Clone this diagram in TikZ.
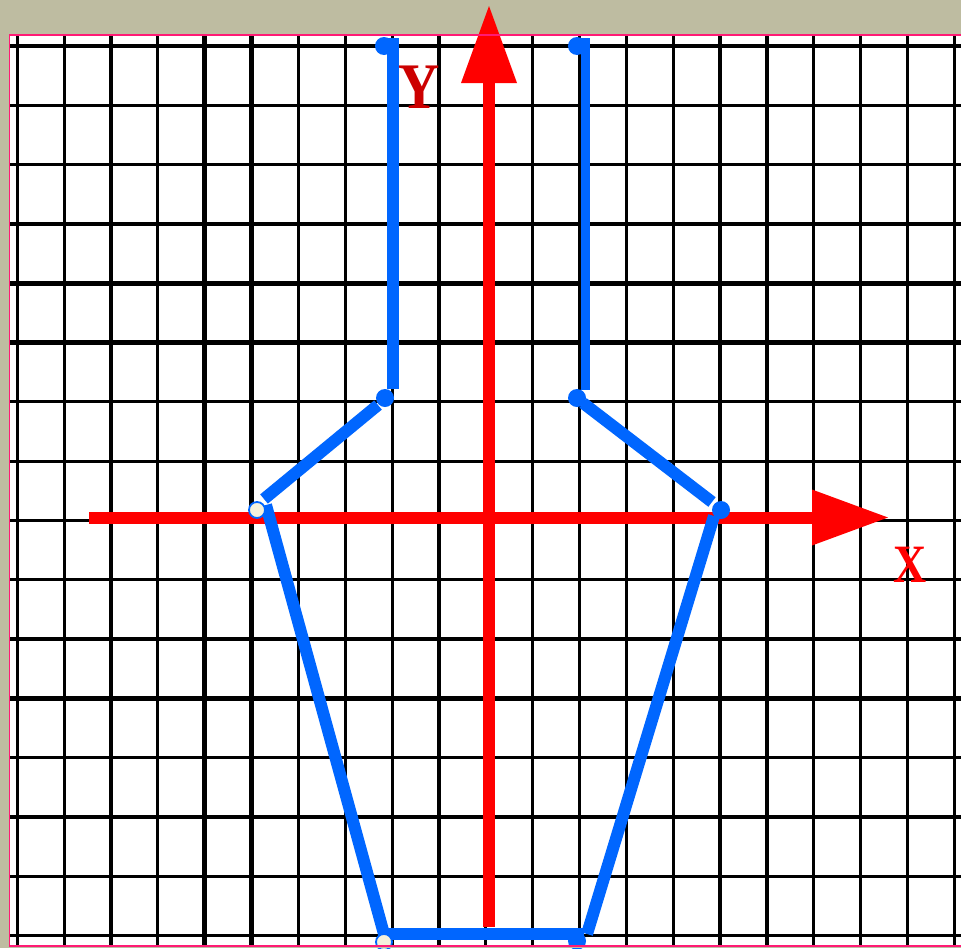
\documentclass[tikz,border=0pt]{standalone}
\usepackage{fontspec}
\setmainfont{Liberation Serif}
\begin{document}
\begin{tikzpicture}[x=1pt,y=-1pt]
\definecolor{khaki}{HTML}{BEBCA1}
\definecolor{framepink}{HTML}{FF1A75}
\definecolor{shapeblue}{HTML}{0066FF}
\definecolor{cream}{HTML}{F4F1DC}
\definecolor{ylabred}{HTML}{CC0000}
\definecolor{axisred}{HTML}{FF0000}
\tikzset{
  gridline/.style={black,line width=3.2pt},
  gridthick/.style={black,line width=4.8pt},
  axisline/.style={axisred,line width=12pt},
  axishead/.style={fill=axisred,draw=none},
  seg/.style={shapeblue,line width=12pt},
  segthin/.style={shapeblue,line width=9pt},
  bluedot/.style={circle,fill=shapeblue,draw=none,minimum size=18pt,inner sep=0pt},
  creamdot/.style={circle,fill=cream,draw=shapeblue,line width=1.8pt,minimum size=16pt,inner sep=0pt},
  axislabel/.style={inner sep=0pt,font=\bfseries}
}
\useasboundingbox (0,0) rectangle (961,948);
% background
\fill[khaki] (0,0) rectangle (961,948);
\fill[white] (9,35) rectangle (961,946);
% grid
\begin{scope}
\clip (9,35) rectangle (961,946);
\foreach \i in {0,...,20} {
  \pgfmathsetmacro\xx{17.3+46.85*\i}
  \draw[gridline] (\xx,35) -- (\xx,946);
}
\foreach \j in {0,...,15} {
  \pgfmathsetmacro\yy{46+59.3*\j}
  \draw[gridline] (9,\yy) -- (961,\yy);
}
\foreach \i in {4,5,15,16} {
  \pgfmathsetmacro\xx{17.3+46.85*\i}
  \draw[gridthick] (\xx,35) -- (\xx,946);
}
\foreach \j in {4,5,10,11} {
  \pgfmathsetmacro\yy{46+59.3*\j}
  \draw[gridthick] (9,\yy) -- (961,\yy);
}
\end{scope}
% axes
\coordinate (xstart) at (89,517.5);
\coordinate (xbase) at (812,517.5);
\coordinate (xtip) at (888,517.5);
\coordinate (ystart) at (489,927);
\coordinate (ybase) at (489,83);
\coordinate (ytip) at (489,6);
\draw[axisline] (xstart) -- (xbase);
\fill[axishead] (xtip) -- ([yshift=-28pt]xbase) -- ([yshift=28pt]xbase) -- cycle;
\draw[axisline] (ystart) -- (ybase);
\fill[axishead] (ytip) -- ([xshift=-28pt]ybase) -- ([xshift=28pt]ybase) -- cycle;
% blue figure
\coordinate (lvtop) at (392.5,38);
\coordinate (lvbot) at (392.5,389);
\coordinate (luda) at (378,405);
\coordinate (ludb) at (264,499);
\coordinate (llda) at (266,505);
\coordinate (lldb) at (384,934);
\coordinate (bota) at (378,933.5);
\coordinate (botb) at (584,933.5);
\coordinate (rlda) at (587,934);
\coordinate (rldb) at (714,516);
\coordinate (ruda) at (712,502);
\coordinate (rudb) at (583,403);
\coordinate (rvbot) at (585,390);
\coordinate (rvtop) at (585,38);
\draw[seg] (lvtop) -- (lvbot);
\draw[seg] (luda) -- (ludb);
\draw[seg] (llda) -- (lldb);
\draw[seg] (bota) -- (botb);
\draw[seg] (rlda) -- (rldb);
\draw[seg] (ruda) -- (rudb);
\draw[segthin] (rvbot) -- (rvtop);
% dots
\node[bluedot] (d1) at (384,46) {};
\node[bluedot] (d2) at (385,398) {};
\node[creamdot] (d3) at (257,510) {};
\node[creamdot] (d4) at (384,942) {};
\node[bluedot] (d5) at (577,941) {};
\node[bluedot] (d6) at (721,510) {};
\node[bluedot] (d7) at (577,398) {};
\node[bluedot] (d8) at (577,46) {};
% labels
\node[axislabel,text=ylabred,font=\bfseries\fontsize{65}{65}\selectfont,xscale=0.88] (ylabel) at (419,87) {Y};
\node[axislabel,text=axisred,font=\bfseries\fontsize{54}{54}\selectfont,xscale=0.85] (xlabel) at (910,565) {X};
% frame
\fill[khaki] (0,946.8) rectangle (961,948);
\draw[framepink,line width=1.6pt] (961,35) -- (9.5,35) -- (9.5,946) -- (961,946);
\end{tikzpicture}
\end{document}
